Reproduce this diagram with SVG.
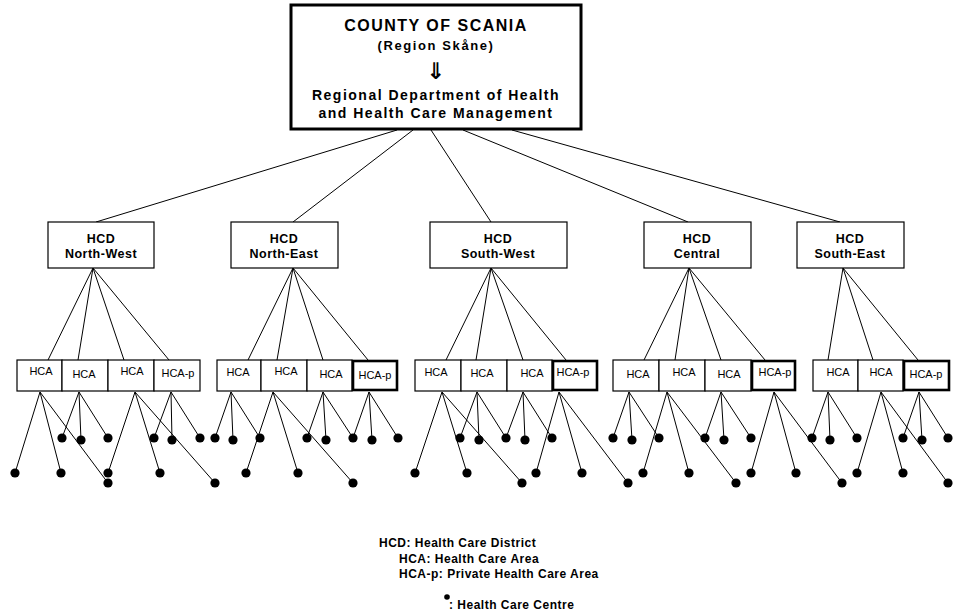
<svg xmlns="http://www.w3.org/2000/svg" width="955" height="614" viewBox="0 0 955 614">
<style>
.bg{fill:#fff}
.ln{stroke:#000;stroke-width:1;fill:none}
.box{fill:#fff;stroke:#000;stroke-width:1.2}
.boxp{fill:#fff;stroke:#000;stroke-width:2.6}
.top{fill:#fff;stroke:#000;stroke-width:3}
.dot circle,.dot{fill:#000}
.t{font-family:"Liberation Sans",Arial,sans-serif;fill:#000}
.hcd{font-size:12.5px;font-weight:bold;letter-spacing:0.5px;text-anchor:middle}
.hca{font-size:11px;text-anchor:middle}
.leg{font-size:12px;font-weight:bold;letter-spacing:0.5px}
</style>
<rect class="bg" x="0" y="0" width="955" height="614"/>

<g id="connectors">
  <line class="ln" x1="397" y1="130" x2="96" y2="222"/>
  <line class="ln" x1="413" y1="130" x2="293" y2="222"/>
  <line class="ln" x1="431" y1="130" x2="491" y2="222"/>
  <line class="ln" x1="463" y1="130" x2="688" y2="222"/>
  <line class="ln" x1="512" y1="130" x2="840" y2="222"/>
  <path class="ln" d="M93 268L48 360M93 268L78 360M93 268L124 360M93 268L169 360"/>
  <path class="ln" d="M40 392L15 473M40 392L61 473M40 392L108 483M79 392L62 438M79 392L81 440M79 392L108 438M135 392L108 473M135 392L160 473M135 392L215 483M171 392L154 438M171 392L172 440M171 392L200 438"/>
  <path class="ln" d="M293 268L248 360M293 268L277 360M293 268L323 360M293 268L368 360"/>
  <path class="ln" d="M231 392L215 438M231 392L233 440M231 392L260 438M273 392L246 473M273 392L298 473M273 392L353 483M323 392L307 438M323 392L326 440M323 392L353 438M369 392L353 438M369 392L372 440M369 392L398 438"/>
  <path class="ln" d="M491 268L446 360M491 268L476 360M491 268L523 360M491 268L566 360"/>
  <path class="ln" d="M442 392L415 473M442 392L467 473M442 392L522 483M477 392L460 438M477 392L479 440M477 392L506 438M523 392L506 438M523 392L525 440M523 392L552 438M559 392L536 473M559 392L582 473M559 392L628 483"/>
  <path class="ln" d="M689 268L644 360M689 268L675 360M689 268L721 360M689 268L765 360"/>
  <path class="ln" d="M629 392L613 438M629 392L632 440M629 392L659 438M667 392L643 473M667 392L689 473M667 392L736 483M721 392L705 438M721 392L724 440M721 392L751 438M774 392L751 473M774 392L796 473M774 392L842 483"/>
  <path class="ln" d="M843 268L828 360M843 268L873 360M843 268L918 360"/>
  <path class="ln" d="M828 392L812 438M828 392L830 440M828 392L857 438M881 392L857 473M881 392L903 473M881 392L948 483M919 392L903 438M919 392L922 440M919 392L948 438"/>
</g>

<g id="county">
  <rect class="top" x="291" y="5" width="290" height="124"/>
  <text class="t" x="436" y="31" font-size="16" font-weight="bold" letter-spacing="1.5" text-anchor="middle">COUNTY OF SCANIA</text>
  <text class="t" x="436" y="50" font-size="13" font-weight="bold" letter-spacing="1.6" text-anchor="middle">(Region Skåne)</text>
  <text x="436" y="79" font-family="'DejaVu Sans',sans-serif" font-size="23" font-weight="bold" text-anchor="middle" fill="#000">⇓</text>
  <text class="t" x="436" y="100" font-size="14" font-weight="bold" letter-spacing="1.5" text-anchor="middle">Regional Department of Health</text>
  <text class="t" x="436" y="118" font-size="14" font-weight="bold" letter-spacing="1.5" text-anchor="middle">and Health Care Management</text>
</g>

<g id="hcd-nw"><rect class="box" x="48" y="222" width="106" height="46"/><text class="t hcd" x="101" y="243">HCD</text><text class="t hcd" x="101" y="258">North-West</text></g>
<g id="hcd-ne"><rect class="box" x="231" y="222" width="107" height="46"/><text class="t hcd" x="284" y="243">HCD</text><text class="t hcd" x="284" y="258">North-East</text></g>
<g id="hcd-sw"><rect class="box" x="430" y="222" width="137" height="46"/><text class="t hcd" x="498" y="243">HCD</text><text class="t hcd" x="498" y="258">South-West</text></g>
<g id="hcd-c"><rect class="box" x="644" y="222" width="107" height="46"/><text class="t hcd" x="697" y="243">HCD</text><text class="t hcd" x="697" y="258">Central</text></g>
<g id="hcd-se"><rect class="box" x="797" y="222" width="107" height="46"/><text class="t hcd" x="850" y="243">HCD</text><text class="t hcd" x="850" y="258">South-East</text></g>

<g id="nw-hca1"><rect class="box" x="17" y="360" width="45" height="31"/><text class="t hca" x="41" y="375">HCA</text></g>
<g id="nw-hca2"><rect class="box" x="62" y="360" width="46" height="31"/><text class="t hca" x="84" y="378">HCA</text></g>
<g id="nw-hca3"><rect class="box" x="108" y="360" width="46" height="31"/><text class="t hca" x="132" y="375">HCA</text></g>
<g id="nw-hcap"><rect class="box" x="154" y="360" width="46" height="31"/><text class="t hca" x="178" y="377">HCA-p</text></g>

<g id="ne-hca1"><rect class="box" x="217" y="360" width="44" height="31"/><text class="t hca" x="238" y="376">HCA</text></g>
<g id="ne-hca2"><rect class="box" x="261" y="360" width="46" height="31"/><text class="t hca" x="286" y="375">HCA</text></g>
<g id="ne-hca3"><rect class="box" x="307" y="360" width="45" height="31"/><text class="t hca" x="331" y="378">HCA</text></g>
<g id="ne-hcap"><rect class="boxp" x="353" y="361" width="44" height="29"/><text class="t hca" x="375" y="379">HCA-p</text></g>

<g id="sw-hca1"><rect class="box" x="415" y="360" width="46" height="31"/><text class="t hca" x="436" y="376">HCA</text></g>
<g id="sw-hca2"><rect class="box" x="461" y="360" width="46" height="31"/><text class="t hca" x="482" y="377">HCA</text></g>
<g id="sw-hca3"><rect class="box" x="507" y="360" width="45" height="31"/><text class="t hca" x="532" y="377">HCA</text></g>
<g id="sw-hcap"><rect class="boxp" x="553" y="361" width="44" height="29"/><text class="t hca" x="573" y="376">HCA-p</text></g>

<g id="c-hca1"><rect class="box" x="613" y="360" width="46" height="31"/><text class="t hca" x="638" y="378">HCA</text></g>
<g id="c-hca2"><rect class="box" x="659" y="360" width="46" height="31"/><text class="t hca" x="684" y="376">HCA</text></g>
<g id="c-hca3"><rect class="box" x="705" y="360" width="46" height="31"/><text class="t hca" x="729" y="378">HCA</text></g>
<g id="c-hcap"><rect class="boxp" x="752" y="361" width="43" height="29"/><text class="t hca" x="775" y="376">HCA-p</text></g>

<g id="se-hca1"><rect class="box" x="813" y="360" width="45" height="31"/><text class="t hca" x="838" y="376">HCA</text></g>
<g id="se-hca2"><rect class="box" x="858" y="360" width="45" height="31"/><text class="t hca" x="881" y="376">HCA</text></g>
<g id="se-hcap"><rect class="boxp" x="904" y="361" width="45" height="29"/><text class="t hca" x="926" y="378">HCA-p</text></g>

<g id="centres-nw" class="dot">
  <circle cx="15" cy="473" r="4.6"/><circle cx="61" cy="473" r="4.6"/><circle cx="108" cy="483" r="4.6"/>
  <circle cx="62" cy="438" r="4.6"/><circle cx="81" cy="440" r="4.6"/><circle cx="108" cy="438" r="4.6"/>
  <circle cx="108" cy="473" r="4.6"/><circle cx="160" cy="473" r="4.6"/><circle cx="215" cy="483" r="4.6"/>
  <circle cx="154" cy="438" r="4.6"/><circle cx="172" cy="440" r="4.6"/><circle cx="200" cy="438" r="4.6"/>
</g>
<g id="centres-ne" class="dot">
  <circle cx="215" cy="438" r="4.6"/><circle cx="233" cy="440" r="4.6"/><circle cx="260" cy="438" r="4.6"/>
  <circle cx="246" cy="473" r="4.6"/><circle cx="298" cy="473" r="4.6"/><circle cx="353" cy="483" r="4.6"/>
  <circle cx="307" cy="438" r="4.6"/><circle cx="326" cy="440" r="4.6"/><circle cx="353" cy="438" r="4.6"/>
  <circle cx="372" cy="440" r="4.6"/><circle cx="398" cy="438" r="4.6"/>
</g>
<g id="centres-sw" class="dot">
  <circle cx="415" cy="473" r="4.6"/><circle cx="467" cy="473" r="4.6"/><circle cx="522" cy="483" r="4.6"/>
  <circle cx="460" cy="438" r="4.6"/><circle cx="479" cy="440" r="4.6"/><circle cx="506" cy="438" r="4.6"/>
  <circle cx="525" cy="440" r="4.6"/><circle cx="552" cy="438" r="4.6"/>
  <circle cx="536" cy="473" r="4.6"/><circle cx="582" cy="473" r="4.6"/><circle cx="628" cy="483" r="4.6"/>
</g>
<g id="centres-c" class="dot">
  <circle cx="613" cy="438" r="4.6"/><circle cx="632" cy="440" r="4.6"/><circle cx="659" cy="438" r="4.6"/>
  <circle cx="643" cy="473" r="4.6"/><circle cx="689" cy="473" r="4.6"/><circle cx="736" cy="483" r="4.6"/>
  <circle cx="705" cy="438" r="4.6"/><circle cx="724" cy="440" r="4.6"/><circle cx="751" cy="438" r="4.6"/>
  <circle cx="751" cy="473" r="4.6"/><circle cx="796" cy="473" r="4.6"/><circle cx="842" cy="483" r="4.6"/>
</g>
<g id="centres-se" class="dot">
  <circle cx="812" cy="438" r="4.6"/><circle cx="830" cy="440" r="4.6"/><circle cx="857" cy="438" r="4.6"/>
  <circle cx="857" cy="473" r="4.6"/><circle cx="903" cy="473" r="4.6"/><circle cx="948" cy="483" r="4.6"/>
  <circle cx="903" cy="438" r="4.6"/><circle cx="922" cy="440" r="4.6"/><circle cx="948" cy="438" r="4.6"/>
</g>

<g id="legend">
  <text class="t leg" x="379" y="547">HCD: Health Care District</text>
  <text class="t leg" x="399" y="563">HCA: Health Care Area</text>
  <text class="t leg" x="399" y="578">HCA-p: Private Health Care Area</text>
  <circle class="dot" cx="447" cy="597" r="2.8"/>
  <text class="t leg" x="449" y="609">: Health Care Centre</text>
</g>
</svg>
